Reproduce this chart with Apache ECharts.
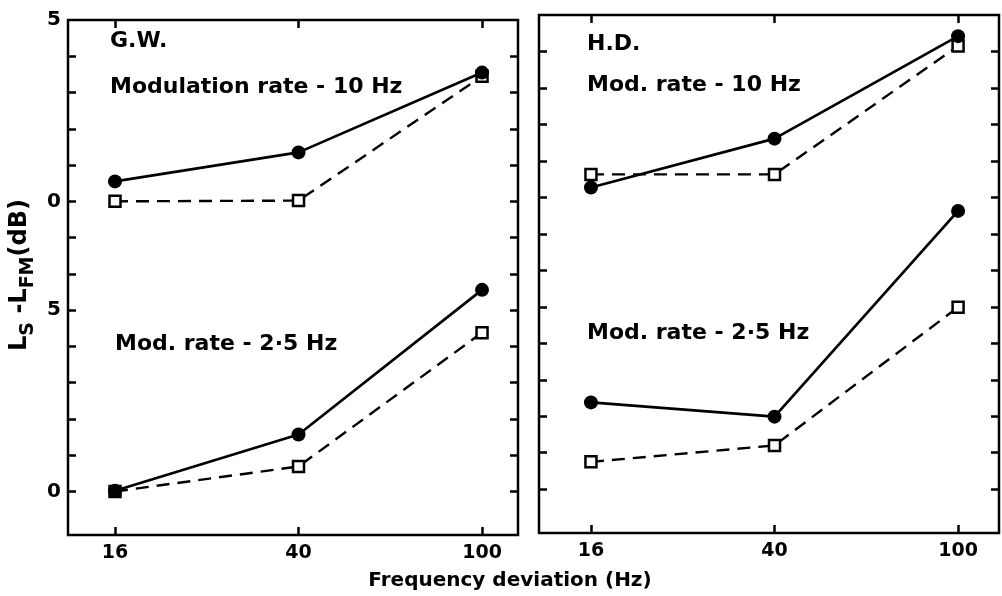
<!DOCTYPE html>
<html>
<head>
<meta charset="utf-8">
<script src="https://cdn.jsdelivr.net/npm/echarts@6/dist/echarts.min.js"></script>
<style>
  html, body { margin: 0; padding: 0; background: #fff; }
  #chart { width: 1002px; height: 596px; }
</style>
</head>
<body>
<div id="chart"></div>
<script>
// frequency deviation (Hz)
var freqs = [16, 40, 100];

// L_S - L_FM (dB); the 10 Hz curves are drawn shifted up by FAST_OFFSET
var FAST_OFFSET = 8;

// G.W.
var gwFastCircle = [0.55, 1.35, 3.55];
var gwFastSquare = [0.0, 0.02, 3.45];
var gwSlowCircle = [0.02, 1.57, 5.56];
var gwSlowSquare = [0.0, 0.69, 4.38];

// H.D.
var hdFastCircle = [0.27, 1.61, 4.42];
var hdFastSquare = [0.63, 0.63, 4.15];
var hdSlowCircle = [2.38, 1.99, 7.63];
var hdSlowSquare = [0.75, 1.2, 4.99];

var yTicks = [0, 1, 2, 3, 4, 5, 6, 7, 8, 9, 10, 11, 12];
var yLabelVals = [0, 5, 8, 13];

var FONT = "DejaVu Sans";

var pts = (vals, off) => freqs.map((f, i) => [Math.log10(f), vals[i] + off]);

var xAxes = (g, min, max) => {
  var ticks = freqs.map((f) => Math.log10(f));
  var base = {
    type: "value",
    gridIndex: g,
    min: min,
    max: max,
    axisLine: { show: false, onZero: false },
    splitLine: { show: false },
    axisTick: {
      show: true,
      inside: true,
      length: 8,
      customValues: ticks,
      lineStyle: { color: "#000", width: 2.5 },
    },
  };
  return [
    Object.assign({}, base, {
      position: "bottom",
      axisLabel: {
        show: true,
        customValues: ticks,
        formatter: (v) => String(Math.round(Math.pow(10, v))),
        margin: 9,
        color: "#000",
        fontFamily: FONT,
        fontWeight: "bold",
        fontSize: 19,
      },
    }),
    Object.assign({}, base, { position: "top", axisLabel: { show: false } }),
  ];
};

var yAxes = (g, showLabel) => {
  var base = {
    type: "value",
    gridIndex: g,
    min: -1.2,
    max: 13,
    axisLine: { show: false, onZero: false },
    splitLine: { show: false },
    axisTick: {
      show: true,
      inside: true,
      length: 8,
      customValues: yTicks,
      lineStyle: { color: "#000", width: 2.5 },
    },
  };
  return [
    Object.assign({}, base, {
      position: "left",
      axisLabel: {
        show: showLabel,
        customValues: yLabelVals,
        formatter: (v) => String(v >= FAST_OFFSET ? v - FAST_OFFSET : v),
        margin: 7,
        color: "#000",
        fontFamily: FONT,
        fontWeight: "bold",
        fontSize: 20,
      },
    }),
    Object.assign({}, base, { position: "right", axisLabel: { show: false } }),
  ];
};

var circleSeries = (vals, off, xi, yi) => ({
  type: "line",
  xAxisIndex: xi,
  yAxisIndex: yi,
  data: pts(vals, off),
  symbol: "circle",
  symbolSize: 14,
  itemStyle: { color: "#000" },
  lineStyle: { color: "#000", width: 2.7, type: "solid" },
  z: 4,
});

var squareSeries = (vals, off, xi, yi) => ({
  type: "line",
  xAxisIndex: xi,
  yAxisIndex: yi,
  data: pts(vals, off),
  symbol: "rect",
  symbolSize: 11,
  itemStyle: { color: "#fff", borderColor: "#000", borderWidth: 2.5 },
  lineStyle: { color: "#000", width: 2.4, type: [13, 8] },
  z: 3,
});

var label = (x, y, text) => ({
  type: "text",
  left: x,
  top: y,
  style: {
    text: text,
    fill: "#000",
    font: "bold 22px '" + FONT + "'",
  },
});

var option = {
  animation: false,
  backgroundColor: "#fff",
  grid: [
    { left: 68, top: 20, width: 450, height: 515, show: true, borderColor: "#000", borderWidth: 2.5, outerBoundsMode: "none" },
    { left: 539, top: 15, width: 460, height: 518, show: true, borderColor: "#000", borderWidth: 2.5, outerBoundsMode: "none" },
  ],
  xAxis: xAxes(0, 1.1022, 2.078).concat(xAxes(1, 1.0915, 2.0887)),
  yAxis: yAxes(0, true).concat(yAxes(1, false)),
  series: [
    squareSeries(gwFastSquare, FAST_OFFSET, 0, 0),
    circleSeries(gwFastCircle, FAST_OFFSET, 0, 0),
    squareSeries(gwSlowSquare, 0, 0, 0),
    circleSeries(gwSlowCircle, 0, 0, 0),
    squareSeries(hdFastSquare, FAST_OFFSET, 2, 2),
    circleSeries(hdFastCircle, FAST_OFFSET, 2, 2),
    squareSeries(hdSlowSquare, 0, 2, 2),
    circleSeries(hdSlowCircle, 0, 2, 2),
  ],
  graphic: [
    label(110, 30, "G.W."),
    label(110, 76, "Modulation rate - 10 Hz"),
    label(115, 333, "Mod. rate - 2·5 Hz"),
    label(587, 33, "H.D."),
    label(587, 74, "Mod. rate - 10 Hz"),
    label(587, 322, "Mod. rate - 2·5 Hz"),
    {
      type: "text",
      x: 510,
      y: 581,
      style: {
        text: "Frequency deviation (Hz)",
        fill: "#000",
        font: "bold 20px '" + FONT + "'",
        align: "center",
        verticalAlign: "middle",
      },
    },
    {
      type: "text",
      x: 23,
      y: 275,
      rotation: Math.PI / 2,
      style: {
        text: "{b|L}{s|S}{b| -L}{s|FM}{b|(dB)}",
        align: "center",
        verticalAlign: "middle",
        rich: {
          b: { fontFamily: FONT, fontWeight: "bold", fontSize: 24, lineHeight: 30, verticalAlign: "top", color: "#000" },
          s: { fontFamily: FONT, fontWeight: "bold", fontSize: 19, lineHeight: 30, verticalAlign: "bottom", color: "#000" },
        },
      },
    },
  ],
};

var myChart = echarts.init(document.getElementById("chart"));
myChart.setOption(option);
</script>
</body>
</html>
